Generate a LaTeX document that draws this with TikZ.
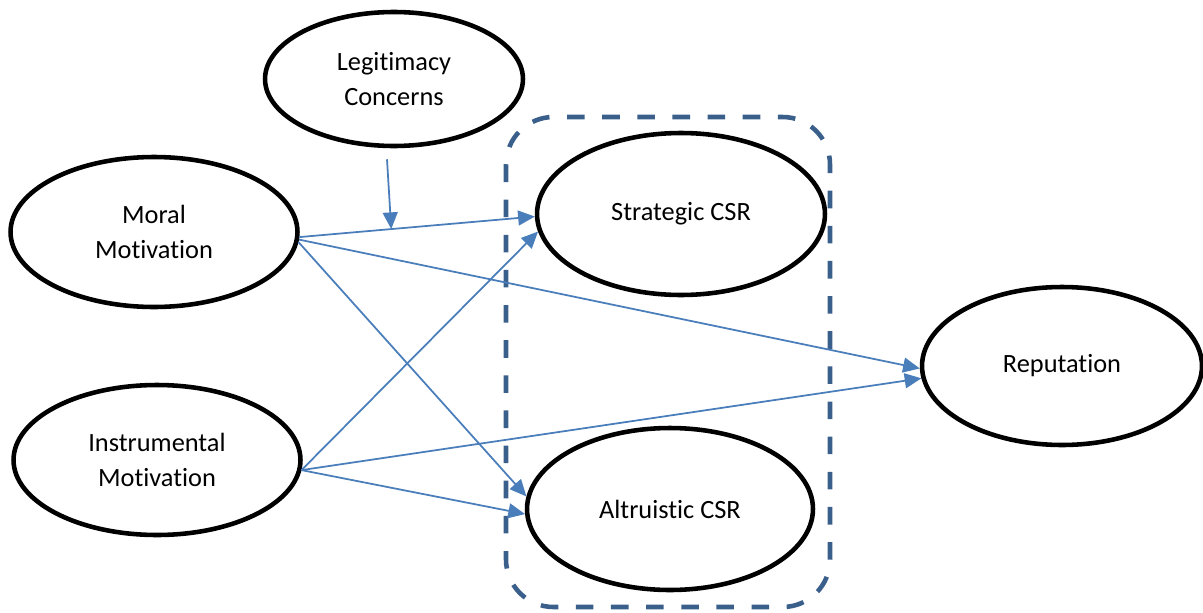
\documentclass[tikz,border=0pt]{standalone}
\usepackage{fontspec}
\setmainfont{Carlito}[Ligatures={NoCommon}]
\usetikzlibrary{shapes.geometric,arrows.meta}
\definecolor{linkblue}{HTML}{4A7EBB}
\definecolor{frameblue}{HTML}{3A5F8B}

\begin{document}
\begin{tikzpicture}[x=0.02cm, y=-0.02cm,
        construct/.style={ellipse, draw, line width=2.6pt, inner sep=0pt, align=center,
            font=\fontsize{15}{20}\selectfont},
        link/.style={linkblue, line width=1pt, -{Triangle[length=9.5pt,width=8.5pt]}}]
        \useasboundingbox (0,0) rectangle (1203,612);

        % Рамка вокруг CSR
        \draw[frameblue, line width=2.6pt, dash pattern=on 10pt off 10pt, rounded corners=0.95cm]
            (506,117) rectangle (830,607);

        % Узлы
        \node[construct, minimum width=5.16cm, minimum height=2.68cm] (legit) at (394,79) {Legitimacy\\Concerns};
        \node[construct, minimum width=5.74cm, minimum height=3cm] (moral) at (154,232) {Moral\\Motivation};
        \node[construct, minimum width=5.74cm, minimum height=3cm] (instr) at (157,460) {Instrumental\\Motivation};
        \node[construct, minimum width=5.76cm, minimum height=3.24cm] (strat) at (681,214) {Strategic CSR};
        \node[construct, minimum width=5.72cm, minimum height=3.24cm] (altru) at (670,509) {Altruistic CSR};
        \node[construct, minimum width=5.6cm, minimum height=3.16cm] (reput) at (1062,366) {Reputation};

        % Связи
        \draw[link] (moral.-2) -- coordinate[pos=0.39] (meet) (strat.181);
        \draw[link] (moral.-3) -- (reput.181);
        \draw[link] (moral.-4) -- (altru.175);
        \draw[link] (instr.-4) -- (strat.187);
        \draw[link] (instr.-4) -- (reput.185);
        \draw[link] (instr.-4) -- (altru.182);
        \draw[link] ([shift={(-7,11)}]legit.south) -- (meet);
    \end{tikzpicture}
\end{document}
